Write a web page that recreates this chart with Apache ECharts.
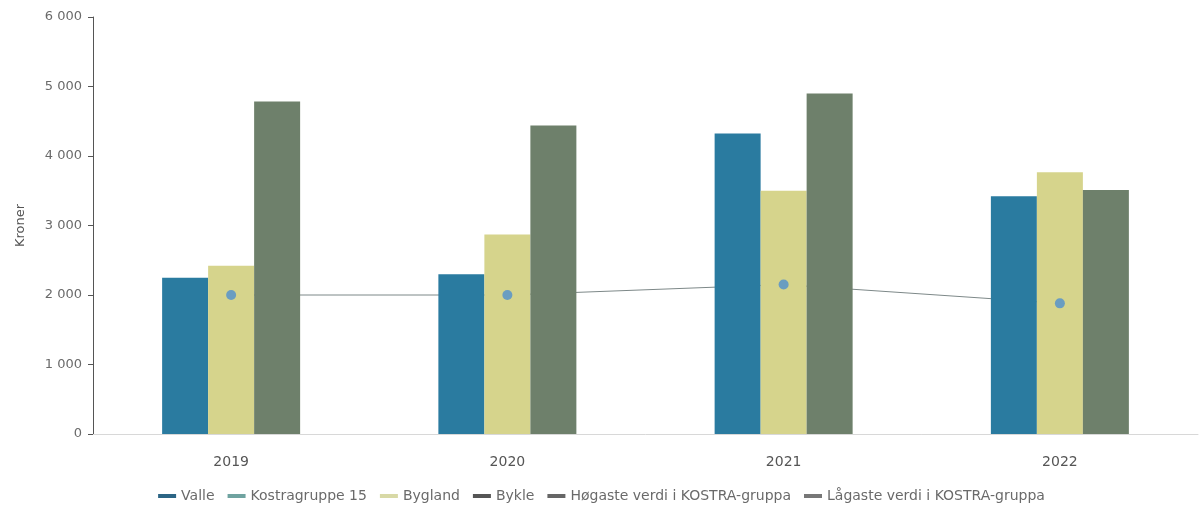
<!DOCTYPE html>
<html>
<head>
<meta charset="utf-8">
<script src="https://cdn.jsdelivr.net/npm/echarts@6/dist/echarts.min.js"></script>
<style>
html,body{margin:0;padding:0;background:#fff;}
#chart{width:1203px;height:505px;}
</style>
</head>
<body>
<div id="chart"></div>
<script>
const categories = ['2019', '2020', '2021', '2022'];
const valle = [2250, 2300, 4325, 3420];
const kostragruppe15 = [2000, 2000, 2150, 1880];
const bygland = [2420, 2870, 3500, 3765];
const bykle = [4785, 4440, 4900, 3510];
const hogaste = [];
const lagaste = [];
const yTicks = [0, 1000, 2000, 3000, 4000, 5000, 6000];

const fmt = v => String(v).replace(/\B(?=(\d{3})+(?!\d))/g, ' ');
const FONT = '"DejaVu Sans", sans-serif';

const chart = echarts.init(document.getElementById('chart'));
chart.setOption({
  animation: false,
  textStyle: { fontFamily: FONT },
  grid: { left: 93, right: 5, top: 17, bottom: 71 },
  legend: {
    top: 484,
    left: 'center',
    icon: 'rect',
    itemWidth: 18,
    itemHeight: 4,
    itemGap: 13,
    textStyle: { color: '#6a6a6a', fontSize: 14, fontFamily: FONT },
    data: [
      { name: 'Valle', itemStyle: { color: '#2c6585' } },
      { name: 'Kostragruppe 15', itemStyle: { color: '#6fa3a0' } },
      { name: 'Bygland', itemStyle: { color: '#d8d9a6' } },
      { name: 'Bykle', itemStyle: { color: '#555' } },
      { name: 'Høgaste verdi i KOSTRA-gruppa', itemStyle: { color: '#666' } },
      { name: 'Lågaste verdi i KOSTRA-gruppa', itemStyle: { color: '#777' } }
    ]
  },
  xAxis: {
    type: 'category',
    data: categories,
    axisLine: { lineStyle: { color: '#d8d8d8' } },
    axisTick: { show: false },
    axisLabel: { color: '#555', fontSize: 14, margin: 21 }
  },
  yAxis: {
    type: 'value',
    min: yTicks[0],
    max: yTicks[yTicks.length - 1],
    interval: 1000,
    name: 'Kroner',
    nameLocation: 'middle',
    nameGap: 66,
    nameTextStyle: { color: '#555', fontSize: 13 },
    axisLine: { show: true, lineStyle: { color: '#555' } },
    axisTick: { show: true, length: 5, lineStyle: { color: '#555' } },
    splitLine: { show: false },
    axisLabel: { color: '#6a6a6a', fontSize: 13, margin: 11, formatter: fmt }
  },
  series: [
    { name: 'Valle', type: 'bar', data: valle, barWidth: 46, barGap: '0%', z: 3,
      itemStyle: { color: '#2a7ba0' } },
    { name: 'Kostragruppe 15', type: 'line', data: kostragruppe15, z: 1, symbol: 'none',
      lineStyle: { color: '#7d8888', width: 1 } },
    { name: 'Bygland', type: 'bar', data: bygland, barWidth: 46, barGap: '0%', z: 3,
      itemStyle: { color: '#d6d48c' } },
    { name: 'Bykle', type: 'bar', data: bykle, barWidth: 46, barGap: '0%', z: 3,
      itemStyle: { color: '#6e806b' } },
    { name: 'Høgaste verdi i KOSTRA-gruppa', type: 'line', data: hogaste,
      itemStyle: { color: '#666' }, lineStyle: { color: '#666' } },
    { name: 'Lågaste verdi i KOSTRA-gruppa', type: 'line', data: lagaste,
      itemStyle: { color: '#777' }, lineStyle: { color: '#777' } },
    { name: 'Kostragruppe 15', type: 'scatter', data: kostragruppe15, z: 5,
      symbol: 'circle', symbolSize: 10,
      itemStyle: { color: '#4f8fce' } }
  ]
});
</script>
</body>
</html>
